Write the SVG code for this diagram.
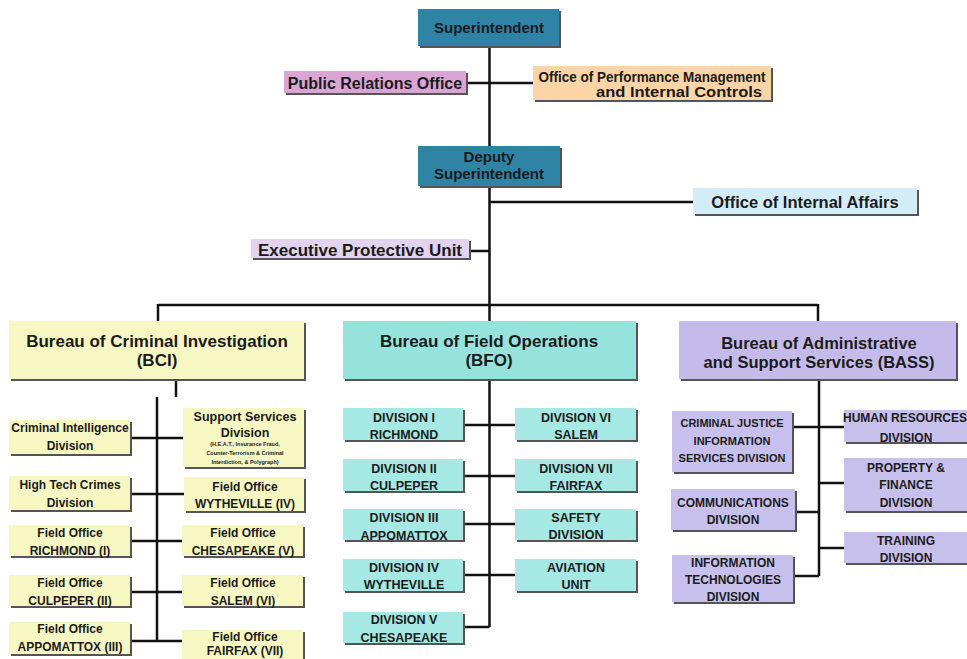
<svg xmlns="http://www.w3.org/2000/svg" width="967" height="659" viewBox="0 0 967 659">
<style>
.t{font-family:"Liberation Sans",Arial,sans-serif;font-weight:bold;fill:#1b1b1b;text-anchor:middle}
.sh{fill:#555}
.ln{stroke:#111;stroke-width:2.5;fill:none}
.blue{fill:#2f84a6}
.yel{fill:#f7f7c3}
.bfo{fill:#96e3dd}
.bfs{fill:#a6e8e3}
.bas{fill:#c5bbea}
.bss{fill:#c8c0ec}
.s12{font-size:12px}
.s125{font-size:12.5px}
.s17{font-size:17px}
</style>
<rect x="0" y="0" width="967" height="659" fill="#ffffff"/>
<g id="connectors">
<path class="ln" d="M489.5 48V146M489.5 188V321M468 83H533M489.5 202H693M471 251H489.5"/>
<path class="ln" d="M158 305H818M158 304V321M818 304V321"/>
<path class="ln" d="M176 381V397M157 397V641M132 438H183M132 494H184M132 541H182M132 592H182M132 641H182"/>
<path class="ln" d="M489.5 381V627M465 425H515M465 476H515M465 524H515M465 575H515M465 627H489.5"/>
<path class="ln" d="M819 381V576M794 427H844M819 483H844M797 512H819M819 548H844M795 576H819"/>
</g>
<g id="superintendent"><rect class="sh" x="420" y="11" width="141" height="37"/><rect class="blue" x="418" y="9" width="141" height="37"/><text class="t" x="489" y="33" font-size="15">Superintendent</text></g>
<g id="public-relations"><rect class="sh" x="286" y="73" width="182" height="22"/><rect x="284" y="71" width="182" height="22" fill="#daa5d5"/><text class="t" x="375" y="89" font-size="16">Public Relations Office</text></g>
<g id="performance-mgmt"><rect class="sh" x="535" y="68" width="238" height="34"/><rect x="533" y="66" width="238" height="34" fill="#fcd4a6"/><text class="t" x="652" y="82" font-size="14" textLength="227" lengthAdjust="spacingAndGlyphs">Office of Performance Management</text><text class="t" x="679" y="97" font-size="14" textLength="166" lengthAdjust="spacingAndGlyphs">and Internal Controls</text></g>
<g id="deputy"><rect class="sh" x="420" y="148" width="142" height="40"/><rect class="blue" x="418" y="146" width="142" height="40"/><text class="t" x="489" y="162" font-size="15">Deputy</text><text class="t" x="489" y="179" font-size="15">Superintendent</text></g>
<g id="internal-affairs"><rect class="sh" x="695" y="190" width="224" height="26"/><rect x="693" y="188" width="224" height="26" fill="#d3edf8"/><text class="t" x="805" y="208" font-size="16.5">Office of Internal Affairs</text></g>
<g id="executive-protective"><rect class="sh" x="253" y="241" width="218" height="19"/><rect x="251" y="239" width="218" height="19" fill="#e2d3ee"/><text class="t" x="360" y="256" font-size="17">Executive Protective Unit</text></g>
<g id="bci"><rect class="sh" x="11" y="323" width="295" height="58"/><rect class="yel" x="9" y="321" width="295" height="58"/><text class="t s17" x="157" y="347">Bureau of Criminal Investigation</text><text class="t s17" x="157" y="366">(BCI)</text></g>
<g id="bfo"><rect class="sh" x="345" y="323" width="293" height="58"/><rect class="bfo" x="343" y="321" width="293" height="58"/><text class="t s17" x="489" y="347">Bureau of Field Operations</text><text class="t s17" x="489" y="366">(BFO)</text></g>
<g id="bass"><rect class="sh" x="681" y="323" width="277" height="58"/><rect class="bas" x="679" y="321" width="277" height="58"/><text class="t" x="819" y="349" font-size="16.5">Bureau of Administrative</text><text class="t" x="819" y="368" font-size="16.5">and Support Services (BASS)</text></g>
<g id="criminal-intelligence"><rect class="sh" x="11" y="422" width="121" height="34"/><rect class="yel" x="9" y="420" width="121" height="34"/><text class="t s12" x="70" y="432">Criminal Intelligence</text><text class="t s12" x="70" y="450">Division</text></g>
<g id="support-services"><rect class="sh" x="185" y="410" width="121" height="59"/><rect class="yel" x="183" y="408" width="121" height="59"/><text class="t" x="245" y="421" font-size="12.5">Support Services</text><text class="t" x="245" y="437" font-size="12.5">Division</text><text class="t" x="245" y="446" font-size="5.5">(H.E.A.T., Insurance Fraud,</text><text class="t" x="245" y="455" font-size="5.5">Counter-Terrorism &amp; Criminal</text><text class="t" x="245" y="464" font-size="5.5">Interdiction, &amp; Polygraph)</text></g>
<g id="high-tech"><rect class="sh" x="11" y="478" width="121" height="34"/><rect class="yel" x="9" y="476" width="121" height="34"/><text class="t s12" x="70" y="489">High Tech Crimes</text><text class="t s12" x="70" y="507">Division</text></g>
<g id="fo-wytheville"><rect class="sh" x="186" y="479" width="120" height="34"/><rect class="yel" x="184" y="477" width="120" height="34"/><text class="t s12" x="245" y="491">Field Office</text><text class="t s12" x="245" y="508">WYTHEVILLE (IV)</text></g>
<g id="fo-richmond"><rect class="sh" x="11" y="527" width="121" height="31"/><rect class="yel" x="9" y="525" width="121" height="31"/><text class="t s12" x="70" y="537">Field Office</text><text class="t s12" x="70" y="555">RICHMOND (I)</text></g>
<g id="fo-chesapeake"><rect class="sh" x="184" y="527" width="121" height="31"/><rect class="yel" x="182" y="525" width="121" height="31"/><text class="t s12" x="243" y="537">Field Office</text><text class="t s12" x="243" y="555">CHESAPEAKE (V)</text></g>
<g id="fo-culpeper"><rect class="sh" x="11" y="577" width="121" height="31"/><rect class="yel" x="9" y="575" width="121" height="31"/><text class="t s12" x="70" y="587">Field Office</text><text class="t s12" x="70" y="605">CULPEPER (II)</text></g>
<g id="fo-salem"><rect class="sh" x="184" y="577" width="121" height="31"/><rect class="yel" x="182" y="575" width="121" height="31"/><text class="t s12" x="243" y="587">Field Office</text><text class="t s12" x="243" y="605">SALEM (VI)</text></g>
<g id="fo-appomattox"><rect class="sh" x="11" y="624" width="121" height="32"/><rect class="yel" x="9" y="622" width="121" height="32"/><text class="t s12" x="70" y="633">Field Office</text><text class="t s12" x="70" y="651">APPOMATTOX (III)</text></g>
<g id="fo-fairfax"><rect class="sh" x="184" y="632" width="121" height="32"/><rect class="yel" x="182" y="630" width="121" height="32"/><text class="t s12" x="245" y="641">Field Office</text><text class="t s12" x="245" y="655">FAIRFAX (VII)</text></g>
<g id="div1"><rect class="sh" x="345" y="410" width="120" height="32"/><rect class="bfs" x="343" y="408" width="120" height="32"/><text class="t s125" x="404" y="422">DIVISION I</text><text class="t s125" x="404" y="438.5">RICHMOND</text></g>
<g id="div6"><rect class="sh" x="517" y="410" width="121" height="32"/><rect class="bfs" x="515" y="408" width="121" height="32"/><text class="t s125" x="576" y="422">DIVISION VI</text><text class="t s125" x="576" y="439">SALEM</text></g>
<g id="div2"><rect class="sh" x="345" y="461" width="120" height="32"/><rect class="bfs" x="343" y="459" width="120" height="32"/><text class="t s125" x="404" y="473">DIVISION II</text><text class="t s125" x="404" y="489.5">CULPEPER</text></g>
<g id="div7"><rect class="sh" x="517" y="461" width="121" height="32"/><rect class="bfs" x="515" y="459" width="121" height="32"/><text class="t s125" x="576" y="473">DIVISION VII</text><text class="t s125" x="576" y="489.5">FAIRFAX</text></g>
<g id="div3"><rect class="sh" x="345" y="511" width="120" height="31"/><rect class="bfs" x="343" y="509" width="120" height="31"/><text class="t s125" x="404" y="522">DIVISION III</text><text class="t s125" x="404" y="539.5">APPOMATTOX</text></g>
<g id="safety"><rect class="sh" x="517" y="511" width="121" height="31"/><rect class="bfs" x="515" y="509" width="121" height="31"/><text class="t s125" x="576" y="522">SAFETY</text><text class="t s125" x="576" y="539">DIVISION</text></g>
<g id="div4"><rect class="sh" x="345" y="561" width="120" height="32"/><rect class="bfs" x="343" y="559" width="120" height="32"/><text class="t s125" x="404" y="572">DIVISION IV</text><text class="t s125" x="404" y="589">WYTHEVILLE</text></g>
<g id="aviation"><rect class="sh" x="517" y="561" width="121" height="32"/><rect class="bfs" x="515" y="559" width="121" height="32"/><text class="t s125" x="576" y="572">AVIATION</text><text class="t s125" x="576" y="589">UNIT</text></g>
<g id="div5"><rect class="sh" x="345" y="614" width="120" height="31"/><rect class="bfs" x="343" y="612" width="120" height="31"/><text class="t s125" x="404" y="624">DIVISION V</text><text class="t s125" x="404" y="642">CHESAPEAKE</text></g>
<g id="cjis"><rect class="sh" x="674" y="413" width="120" height="61"/><rect class="bss" x="672" y="411" width="120" height="61"/><text class="t" x="732" y="427" font-size="11">CRIMINAL JUSTICE</text><text class="t" x="732" y="444.5" font-size="11">INFORMATION</text><text class="t" x="732" y="462" font-size="11">SERVICES DIVISION</text></g>
<g id="human-resources"><rect class="sh" x="846" y="412" width="125" height="32"/><rect class="bss" x="844" y="410" width="125" height="32"/><text class="t s12" x="905" y="421.5">HUMAN RESOURCES</text><text class="t s12" x="906" y="441.5">DIVISION</text></g>
<g id="property-finance"><rect class="sh" x="846" y="460" width="125" height="53"/><rect class="bss" x="844" y="458" width="125" height="53"/><text class="t s12" x="906" y="472">PROPERTY &amp;</text><text class="t s12" x="906" y="489">FINANCE</text><text class="t s12" x="906" y="507">DIVISION</text></g>
<g id="communications"><rect class="sh" x="673" y="491" width="124" height="41"/><rect class="bss" x="671" y="489" width="124" height="41"/><text class="t s12" x="733" y="507">COMMUNICATIONS</text><text class="t s12" x="733" y="524">DIVISION</text></g>
<g id="training"><rect class="sh" x="846" y="534" width="125" height="31"/><rect class="bss" x="844" y="532" width="125" height="31"/><text class="t s12" x="906" y="545">TRAINING</text><text class="t s12" x="906" y="561.5">DIVISION</text></g>
<g id="info-tech"><rect class="sh" x="674" y="557" width="121" height="47"/><rect class="bss" x="672" y="555" width="121" height="47"/><text class="t s12" x="733" y="567">INFORMATION</text><text class="t s12" x="733" y="584">TECHNOLOGIES</text><text class="t s12" x="733" y="600.5">DIVISION</text></g>
</svg>
